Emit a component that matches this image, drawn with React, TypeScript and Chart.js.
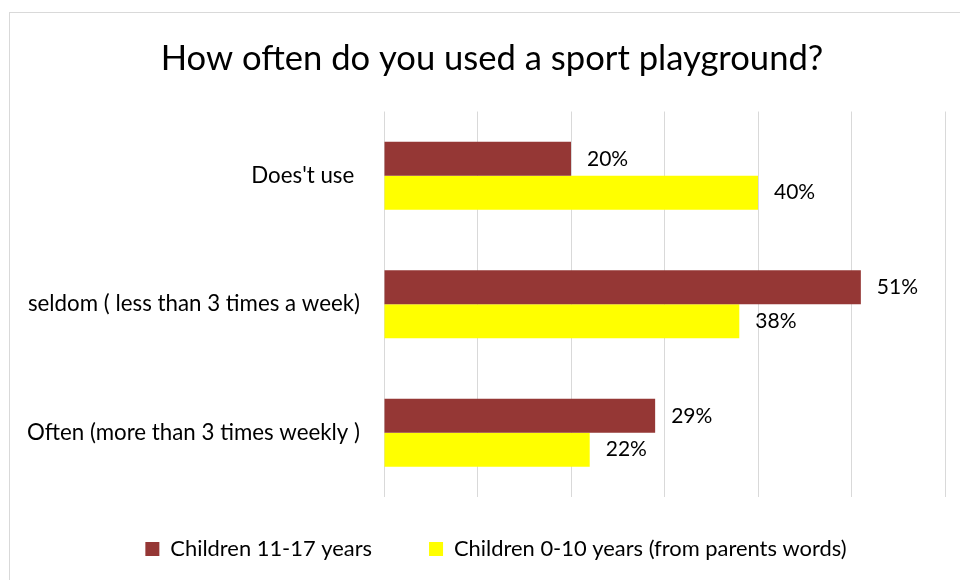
import React, { useEffect, useRef } from "react";
import { Chart, registerables } from "chart.js";

Chart.register(...registerables);

const titleText = "How often do you used a sport playground?";
const categories = ["Does't use ", "seldom ( less than 3 times a week)", "Often (more than 3 times weekly )"];
const seriesNames = ["Children 11-17 years", "Children 0-10 years (from parents words)"];
const olderValues = [20, 51, 29];
const youngerValues = [40, 38, 22];
const axisMin = 0;
const axisMax = 60;
const axisStep = 10;

const FONT = "Lato, 'Open Sans', sans-serif";
const RED = "#953735";
const YELLOW = "#FFFF00";
const GRID = "#d9d9d9";
const TEXT = "#000000";

const TITLE_SIZE = 34.6;
const TICK_SIZE = 22.3;
const LABEL_SIZE = 21;
const LEGEND_SIZE = 21.9;
const LEGEND_GAP = 57;
const LEGEND_CENTER_Y = 549;
const PAD_LEFT = 10;
const PAD_RIGHT = 15;
const PLOT_LEFT = 384;
const TITLE_CENTER_X = 492;
const LEGEND_CENTER_X = 496;

const backgroundPlugin = {
  id: "bgBorder",
  beforeDraw(chart: any) {
    const ctx = chart.ctx;
    ctx.save();
    ctx.fillStyle = "#ffffff";
    ctx.fillRect(0, 0, chart.width, chart.height);
    ctx.strokeStyle = GRID;
    ctx.lineWidth = 1;
    ctx.strokeRect(9.5, 12.5, 1200, 1200);
    ctx.restore();
  },
};

const blockShiftPlugin = {
  id: "blockShift",
  afterLayout(chart: any) {
    const lg = chart.legend;
    if (lg) {
      const h = lg.height;
      const top = LEGEND_CENTER_Y - LEGEND_GAP - LEGEND_SIZE / 2;
      lg.top = top;
      lg.bottom = top + h;
      const dx = LEGEND_CENTER_X - (lg.left + lg.right) / 2;
      lg.left += dx;
      lg.right += dx;
    }
    const tb = chart.titleBlock;
    if (tb) {
      const dx = TITLE_CENTER_X - (tb.left + tb.right) / 2;
      tb.left += dx;
      tb.right += dx;
    }
  },
};

const valueLabelPlugin = {
  id: "valueLabels",
  afterDatasetsDraw(chart: any) {
    const ctx = chart.ctx;
    ctx.save();
    ctx.font = `${LABEL_SIZE}px ${FONT}`;
    ctx.fillStyle = TEXT;
    ctx.textAlign = "left";
    ctx.textBaseline = "middle";
    chart.data.datasets.forEach((ds: any, di: number) => {
      const meta = chart.getDatasetMeta(di);
      meta.data.forEach((bar: any, i: number) => {
        ctx.fillText(`${ds.data[i]}%`, bar.x + 16, bar.y);
      });
    });
    ctx.restore();
  },
};

export default function App() {
  const ref = useRef<HTMLCanvasElement | null>(null);

  useEffect(() => {
    if (!ref.current) return;
    const chart = new Chart(ref.current, {
      type: "bar",
      data: {
        labels: categories,
        datasets: [
          {
            label: seriesNames[0],
            data: olderValues,
            backgroundColor: RED,
            borderWidth: 0,
            barPercentage: 1,
            categoryPercentage: 0.528,
          },
          {
            label: seriesNames[1],
            data: youngerValues,
            backgroundColor: YELLOW,
            borderWidth: 0,
            barPercentage: 1,
            categoryPercentage: 0.528,
          },
        ],
      },
      options: {
        indexAxis: "y",
        animation: false,
        responsive: false,
        devicePixelRatio: 1,
        layout: { padding: { left: PAD_LEFT, right: PAD_RIGHT, top: 0, bottom: 0 } },
        plugins: {
          title: {
            display: true,
            text: titleText,
            color: TEXT,
            font: { family: FONT, size: TITLE_SIZE, weight: "normal" },
            padding: { top: 38, bottom: 32 },
          },
          legend: {
            display: true,
            position: "bottom",
            maxHeight: 83,
            labels: {
              color: TEXT,
              font: { family: FONT, size: LEGEND_SIZE },
              boxWidth: 14,
              boxHeight: 14,
              padding: LEGEND_GAP,
            },
          },
          tooltip: { enabled: false },
        },
        scales: {
          x: {
            type: "linear",
            position: "bottom",
            min: axisMin,
            max: axisMax,
            ticks: { display: false, stepSize: axisStep },
            grid: { color: GRID, lineWidth: 1, drawTicks: false },
            border: { display: false },
            afterFit(scale: any) {
              scale.height = 0;
            },
          },
          y: {
            type: "category",
            grid: { display: false, drawTicks: false },
            border: { display: false },
            ticks: {
              color: TEXT,
              font: { family: FONT, size: TICK_SIZE },
              padding: 24,
            },
            afterFit(scale: any) {
              scale.width = PLOT_LEFT - PAD_LEFT;
            },
          },
        },
      },
      plugins: [backgroundPlugin, blockShiftPlugin, valueLabelPlugin],
    });
    return () => chart.destroy();
  }, []);

  return (
    <canvas
      ref={ref}
      width={960}
      height={580}
      style={{ position: "absolute", left: 0, top: 0, width: 960, height: 580 }}
    />
  );
}
